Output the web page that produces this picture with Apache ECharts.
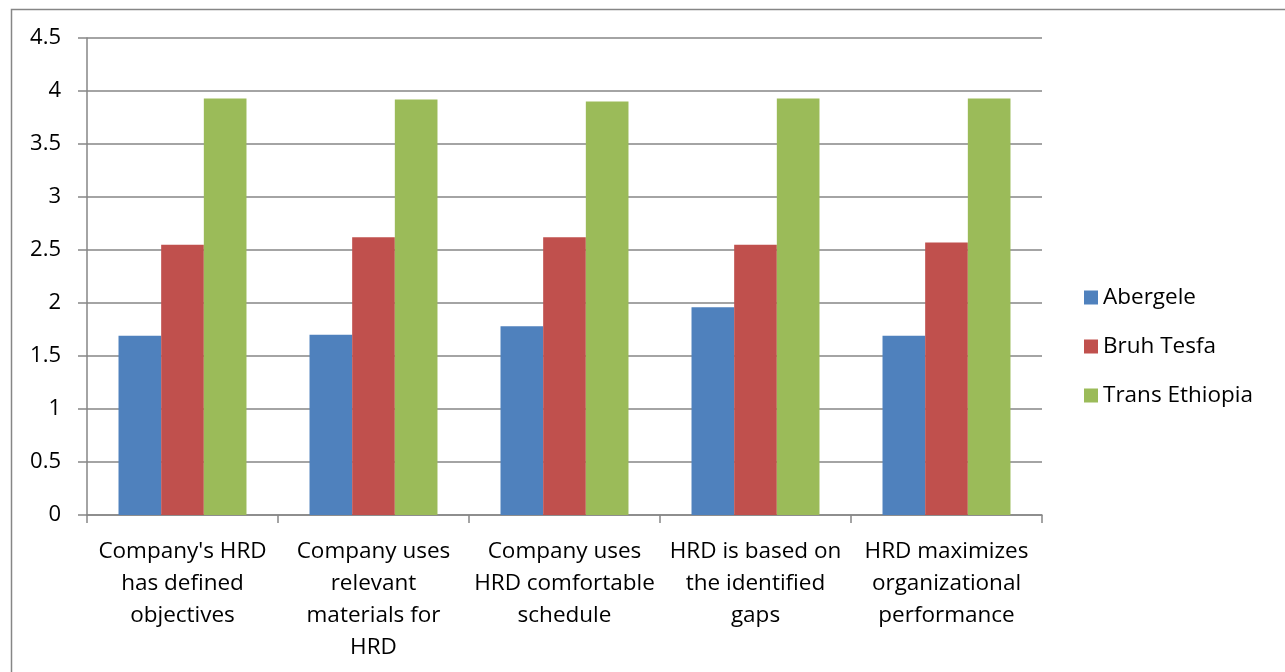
<!DOCTYPE html>
<html>
<head>
<meta charset="utf-8">
<script src="https://cdn.jsdelivr.net/npm/echarts@6/dist/echarts.min.js"></script>
<style>
  html, body { margin: 0; padding: 0; background: #fff; }
  #chart { width: 1285px; height: 672px; }
</style>
</head>
<body>
<div id="chart"></div>
<script>
// categories and values
var categories = [
    "Company's HRD\nhas defined\nobjectives",
    "Company uses\nrelevant\nmaterials for\nHRD",
    "Company uses\nHRD comfortable\nschedule",
    "HRD is based on\nthe identified\ngaps",
    "HRD maximizes\norganizational\nperformance"
];
var abergele = [1.69, 1.70, 1.78, 1.96, 1.69];
var bruhTesfa = [2.55, 2.62, 2.62, 2.55, 2.57];
var transEthiopia = [3.93, 3.92, 3.90, 3.93, 3.93];

var font = "'Open Sans', 'Liberation Sans', sans-serif";
var gray = '#868686';

var chart = echarts.init(document.getElementById('chart'));

function bar(name, data, color) {
    return {
        name: name,
        type: 'bar',
        data: data,
        barGap: '0%',
        barCategoryGap: '33%',
        itemStyle: { color: color },
        emphasis: { disabled: true }
    };
}

chart.setOption({
    animation: false,
    textStyle: { fontFamily: font },
    graphic: [{
        type: 'rect',
        shape: { x: 11.5, y: 9.5, width: 1300, height: 700 },
        style: { fill: 'none', stroke: gray, lineWidth: 1.5 },
        silent: true
    }],
    grid: { left: 87, top: 38, right: 243, bottom: 157 },
    legend: {
        orient: 'vertical',
        left: 1079,
        top: 281,
        itemWidth: 14,
        itemHeight: 14,
        itemGap: 26,
        icon: 'rect',
        textStyle: { fontSize: 22.5, color: '#000', fontFamily: font, lineHeight: 22 },
        data: ['Abergele', 'Bruh Tesfa', 'Trans Ethiopia']
    },
    xAxis: {
        type: 'category',
        data: categories,
        axisLine: { lineStyle: { color: gray, width: 1.5 } },
        axisTick: { show: true, length: 8, lineStyle: { color: gray, width: 1.5 } },
        axisLabel: {
            interval: 0,
            margin: 21,
            fontSize: 22.5,
            lineHeight: 32,
            color: '#000',
            fontFamily: font
        }
    },
    yAxis: {
        type: 'value',
        min: 0,
        max: 4.5,
        interval: 0.5,
        axisLine: { show: true, lineStyle: { color: gray, width: 1.5 } },
        axisTick: { show: true, length: 9, lineStyle: { color: gray, width: 1.5 } },
        splitLine: { lineStyle: { color: gray, width: 1.5 } },
        axisLabel: { margin: 26, fontSize: 22, color: '#000', fontFamily: font }
    },
    series: [
        bar('Abergele', abergele, '#4f81bd'),
        bar('Bruh Tesfa', bruhTesfa, '#c0504d'),
        bar('Trans Ethiopia', transEthiopia, '#9bbb59')
    ]
});
</script>
</body>
</html>
